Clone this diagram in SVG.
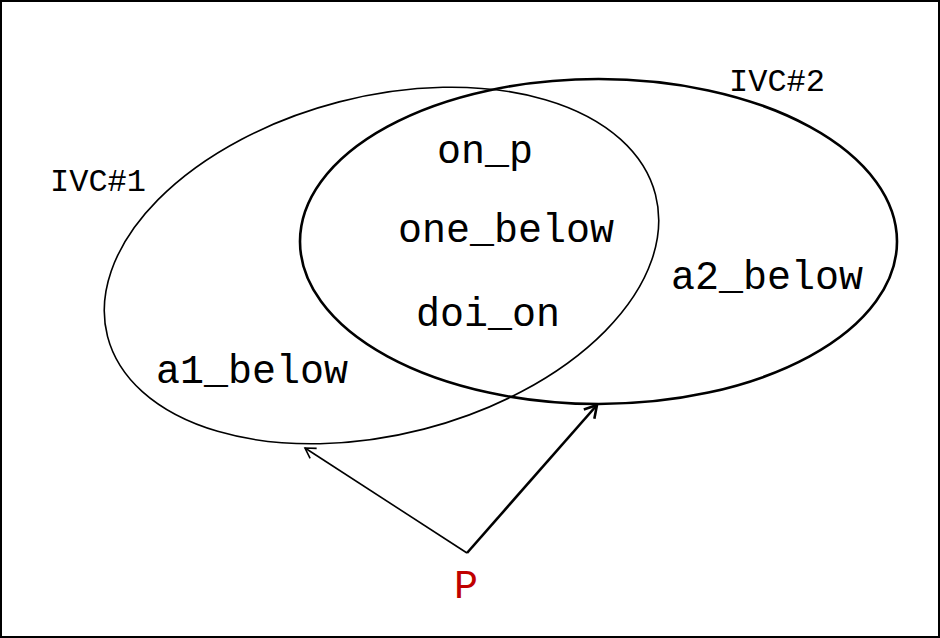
<svg xmlns="http://www.w3.org/2000/svg" width="940" height="638" viewBox="0 0 940 638">
<defs>
<style>
.big{font-family:"Courier New","Liberation Mono",monospace;font-size:40px;fill:#000;text-anchor:middle}
.small{font-family:"Courier New","Liberation Mono",monospace;font-size:32px;fill:#000;text-anchor:middle}
.lbl{font-family:"Courier New","Liberation Mono",monospace;font-size:40px;fill:#c00000;text-anchor:middle}
.thin{fill:none;stroke:#000;stroke-width:1.6}
.thick{fill:none;stroke:#000;stroke-width:2.6}
</style>
<marker id="ah1" markerWidth="12" markerHeight="12" refX="10" refY="6" orient="auto" markerUnits="userSpaceOnUse" viewBox="0 0 12 12" overflow="visible">
<path d="M0,0 L10,6 L0,12" fill="none" stroke="#000" stroke-width="1.6"/>
</marker>
<marker id="ah2" markerWidth="14" markerHeight="14" refX="12" refY="7" orient="auto" markerUnits="userSpaceOnUse" viewBox="0 0 14 14" overflow="visible">
<path d="M0,0 L12,7 L0,14" fill="none" stroke="#000" stroke-width="2.6"/>
</marker>
</defs>
<rect x="1" y="1" width="938" height="636" fill="#fff" stroke="#000" stroke-width="2"/>
<g id="ivc1">
<ellipse class="thin" cx="381.5" cy="265.5" rx="283" ry="169" transform="rotate(-14.5 381.5 265.5)"/>
<text class="small" x="98" y="191">IVC#1</text>
<text class="big" x="252" y="383">a1_below</text>
</g>
<g id="ivc2">
<ellipse class="thick" cx="598.5" cy="241.5" rx="298.5" ry="162.5"/>
<text class="small" x="777" y="91">IVC#2</text>
<text class="big" x="767" y="289">a2_below</text>
</g>
<g id="intersection">
<text class="big" x="485" y="163">on_p</text>
<text class="big" x="506" y="242">one_below</text>
<text class="big" x="488" y="326">doi_on</text>
</g>
<g id="p">
<text class="lbl" x="466" y="598">P</text>
</g>
<g id="connectors">
<line class="thin" x1="467" y1="553" x2="305" y2="448" marker-end="url(#ah1)"/>
<line class="thick" x1="467" y1="553" x2="597" y2="405" marker-end="url(#ah2)"/>
</g>
</svg>
